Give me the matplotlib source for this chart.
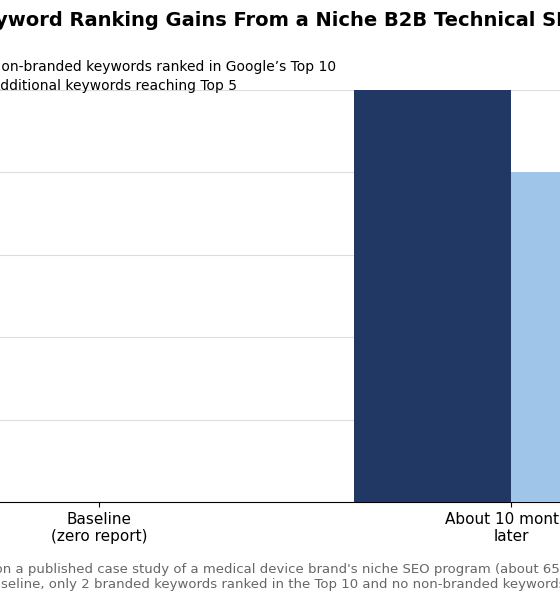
import matplotlib
matplotlib.use("Agg")
import matplotlib.pyplot as plt
import numpy as np

categories = ["Baseline\n(zero report)", "About 10 months\nlater"]
series_names = ["Non-branded keywords ranked in Google\u2019s Top 10",
                "Additional keywords reaching Top 5"]
top10 = [0, 50]
top5 = [0, 40]
colors = ["#213864", "#9fc5e8"]

W, H = 560, 600
fig = plt.figure(figsize=(W/100, H/100), dpi=100)
left_px, right_px = -148, 758
ax = fig.add_axes([left_px/W, 98/H, (right_px-left_px)/W, (502-90)/H])
x = np.arange(len(categories))
w = 0.38
ax.bar(x - w/2, top10, w, color=colors[0], label=series_names[0], zorder=3)
ax.bar(x + w/2, top5, w, color=colors[1], label=series_names[1], zorder=3)
ax.set_xlim(-0.6, 1.6)
ax.set_ylim(0, 50)
ax.set_yticks(np.arange(0, 51, 10))
ax.yaxis.grid(True, color="#dddddd", linewidth=0.8, zorder=0)
ax.set_axisbelow(True)
for s in ["top", "right", "left"]:
    ax.spines[s].set_visible(False)
ax.tick_params(axis="y", length=0)
ax.set_xticks(x)
ax.set_xticklabels(categories, fontsize=11)
cx = (left_px + right_px) / 2 / W
fig.text(cx + 22/W, 1 - 20/H, "Keyword Ranking Gains From a Niche B2B Technical SEO Program",
         ha="center", va="center", fontsize=14, fontweight="bold")
ax.legend(loc="upper left", bbox_to_anchor=((-53-left_px)/(right_px-left_px), 1 + 42/412),
          frameon=False, fontsize=10, handlelength=1.5, labelspacing=0.3)
fig.text(cx - 12/W, 1 - 577/H,
         "Source: Based on a published case study of a medical device brand's niche SEO program (about 65 tracked keywords).\n"
         "At baseline, only 2 branded keywords ranked in the Top 10 and no non-branded keywords ranked.",
         ha="center", va="center", fontsize=9.5, color="#666666")
fig.savefig("out.png", dpi=100)
